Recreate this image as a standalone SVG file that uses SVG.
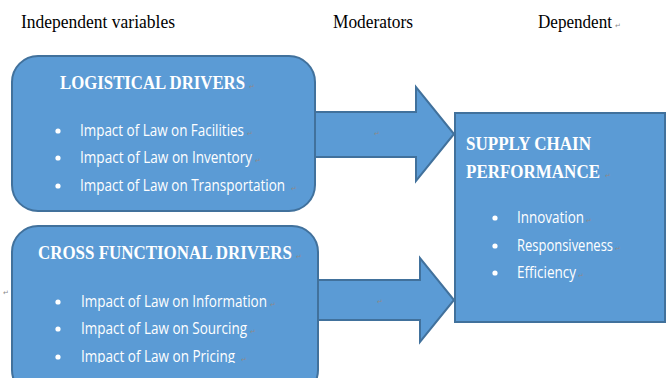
<svg xmlns="http://www.w3.org/2000/svg" width="670" height="378" viewBox="0 0 670 378">
<style>
.shape{fill:#5b9bd5;stroke:#41719c;stroke-width:2}
.hdr{font-family:"Liberation Serif",serif;font-size:19px;fill:#000}
.title{font-family:"Liberation Serif",serif;font-weight:bold;font-size:19px;fill:#fff}
.item{font-family:"Open Sans","Liberation Sans",sans-serif;font-size:15.5px;fill:#fff}
.pm{font-family:"DejaVu Sans",sans-serif;font-size:7px;fill:#8a8a8a}
.bul{fill:#fff}
</style>
<defs>
<clipPath id="clipB2"><rect x="0" y="0" width="670" height="363"/></clipPath>
</defs>
<rect width="670" height="378" fill="#fff"/>
<g id="headers">
<text class="hdr" x="21" y="28" textLength="154" lengthAdjust="spacingAndGlyphs">Independent variables</text>
<text class="hdr" x="333" y="28" textLength="80" lengthAdjust="spacingAndGlyphs">Moderators</text>
<text class="hdr" x="538" y="28" textLength="74" lengthAdjust="spacingAndGlyphs">Dependent</text>
<text class="pm" x="615" y="28">↵</text>
</g>
<g id="connectors">
<polygon class="shape" points="314,112 416,112 416,87 454,134 416,181 416,157 314,157"/>
<text class="pm" x="374" y="136">↵</text>
<polygon class="shape" points="316,280 420,280 420,258 454,300 420,342 420,320 316,320"/>
<text class="pm" x="377" y="304">↵</text>
</g>
<g id="logistical">
<rect class="shape" x="12" y="56" width="303" height="155" rx="26"/>
<text class="title" x="60" y="89" textLength="185" lengthAdjust="spacingAndGlyphs">LOGISTICAL  DRIVERS</text>
<text class="pm" x="249" y="89">↵</text>
<circle class="bul" cx="58" cy="131" r="2.6"/>
<circle class="bul" cx="58" cy="158" r="2.6"/>
<circle class="bul" cx="58" cy="186" r="2.6"/>
<text class="item" x="80" y="136" textLength="164" lengthAdjust="spacingAndGlyphs">Impact of Law on Facilities</text>
<text class="pm" x="247" y="136">↵</text>
<text class="item" x="80" y="163" textLength="172" lengthAdjust="spacingAndGlyphs">Impact of Law on Inventory</text>
<text class="pm" x="255" y="163">↵</text>
<text class="item" x="80" y="191" textLength="205" lengthAdjust="spacingAndGlyphs">Impact of Law on Transportation</text>
<text class="pm" x="291" y="191">↵</text>
</g>
<g id="crossfunctional">
<rect class="shape" x="12" y="226" width="306" height="170" rx="26"/>
<text class="title" x="38" y="259" textLength="254" lengthAdjust="spacingAndGlyphs">CROSS FUNCTIONAL DRIVERS</text>
<text class="pm" x="296" y="259">↵</text>
<text class="pm" x="3" y="295">↵</text>
<circle class="bul" cx="58" cy="302" r="2.6"/>
<circle class="bul" cx="58" cy="329" r="2.6"/>
<circle class="bul" cx="58" cy="357" r="2.6"/>
<text class="item" x="81" y="307" textLength="186" lengthAdjust="spacingAndGlyphs">Impact of Law on Information</text>
<text class="pm" x="270" y="307">↵</text>
<text class="item" x="81" y="334" textLength="166" lengthAdjust="spacingAndGlyphs">Impact of Law on Sourcing</text>
<text class="pm" x="250" y="334">↵</text>
<text class="item" x="81" y="362" textLength="154" lengthAdjust="spacingAndGlyphs" clip-path="url(#clipB2)">Impact of Law on Pricing</text>
<text class="pm" x="241" y="362">↵</text>
</g>
<g id="supplychain">
<rect class="shape" x="455" y="113" width="210" height="209"/>
<text class="title" x="466" y="150" textLength="125" lengthAdjust="spacingAndGlyphs">SUPPLY CHAIN</text>
<text class="title" x="466" y="178" textLength="134" lengthAdjust="spacingAndGlyphs">PERFORMANCE</text>
<text class="pm" x="605" y="178">↵</text>
<circle class="bul" cx="495" cy="218" r="2.6"/>
<circle class="bul" cx="495" cy="246" r="2.6"/>
<circle class="bul" cx="495" cy="273" r="2.6"/>
<text class="item" x="517" y="223" textLength="67" lengthAdjust="spacingAndGlyphs">Innovation</text>
<text class="pm" x="586" y="223">↵</text>
<text class="item" x="517" y="251" textLength="96" lengthAdjust="spacingAndGlyphs">Responsiveness</text>
<text class="pm" x="615" y="251">↵</text>
<text class="item" x="517" y="278" textLength="59" lengthAdjust="spacingAndGlyphs">Efficiency</text>
<text class="pm" x="578" y="278">↵</text>
</g>
</svg>
